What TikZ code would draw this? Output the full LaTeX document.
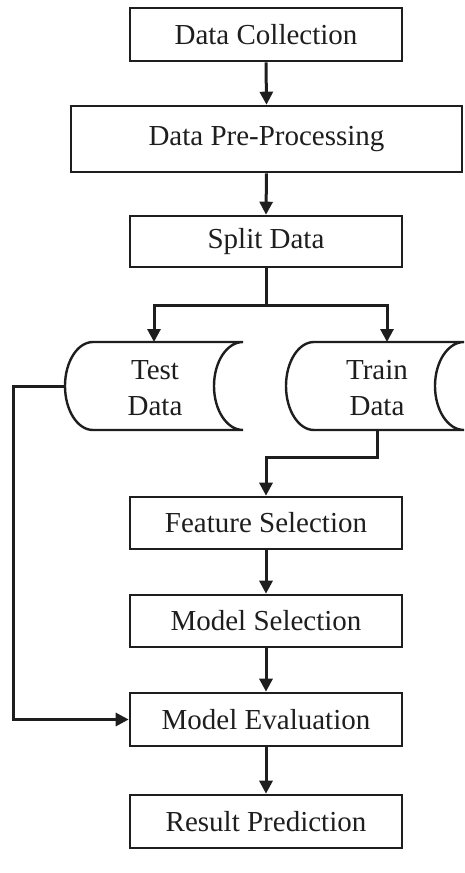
\documentclass[tikz,border=0pt]{standalone}
\usepackage{fontspec}
\setmainfont{Liberation Serif}
\usetikzlibrary{arrows.meta}
\definecolor{ink}{RGB}{30,30,30}
\begin{document}
\begin{tikzpicture}[x=1pt,y=1pt,
  every node/.style={font=\fontsize{29}{36}\selectfont, text=ink},
  stepbox/.style={draw=ink, line width=2.6pt, rectangle, inner sep=0pt},
  cyltext/.style={align=center, inner sep=0pt},
  cyl/.style={draw=ink, line width=2.4pt, fill=white},
  conn/.style={draw=ink, line width=3pt, -{Triangle[width=13pt,length=13pt]}},
  plain/.style={draw=ink, line width=3pt}
]
\useasboundingbox (0,0) rectangle (464,-873);

% boxes
\node[stepbox, minimum width=272pt, minimum height=53pt] (dc) at (266,-34.5) {Data Collection};
\node[stepbox, minimum width=391pt, minimum height=66pt] (dpp) at (266.5,-139) {Data Pre-Processing};
\node[stepbox, minimum width=272pt, minimum height=51pt] (split) at (266,-241.5) {Split Data};
\node[stepbox, minimum width=272pt, minimum height=52pt] (fs) at (266,-523) {Feature Selection};
\node[stepbox, minimum width=272pt, minimum height=52pt] (ms) at (266,-621) {Model Selection};
\node[stepbox, minimum width=272pt, minimum height=53pt] (me) at (266,-719.5) {Model Evaluation};
\node[stepbox, minimum width=272pt, minimum height=53pt] (rp) at (266,-821.5) {Result Prediction};

% cylinders (stored data)
\path[cyl] (93,-342) -- (243,-342) arc[start angle=90,end angle=270,x radius=29,y radius=44]
  -- (93,-430) arc[start angle=270,end angle=90,x radius=28,y radius=44] -- cycle;
\path[cyl] (314,-342) -- (464,-342) arc[start angle=90,end angle=270,x radius=29,y radius=44]
  -- (314,-430) arc[start angle=270,end angle=90,x radius=28,y radius=44] -- cycle;

\node[cyltext] (test) at (155,-388) {Test\\Data};
\node[cyltext] (train) at (377,-388) {Train\\Data};

\coordinate (testT) at (154,-342);
\coordinate (trainT) at (387,-342);
\coordinate (testL) at (65,-386);
\coordinate (trainB) at (377,-430);
\coordinate (splitJ) at (266,-305);

% connectors
\draw[conn] (dc.south) -- (dpp.north);
\draw[conn] (dpp.south) -- (split.north);
\draw[plain] (split.south) -- (splitJ);
\draw[conn] (splitJ) -| (testT);
\draw[conn] (splitJ) -| (trainT);
\draw[conn] (trainB) |- (266,-457) -- (fs.north);
\draw[conn] (testL) -- (13,-386) |- (me.west);
\draw[conn] (fs.south) -- (ms.north);
\draw[conn] (ms.south) -- (me.north);
\draw[conn] (me.south) -- (rp.north);
\end{tikzpicture}
\end{document}
